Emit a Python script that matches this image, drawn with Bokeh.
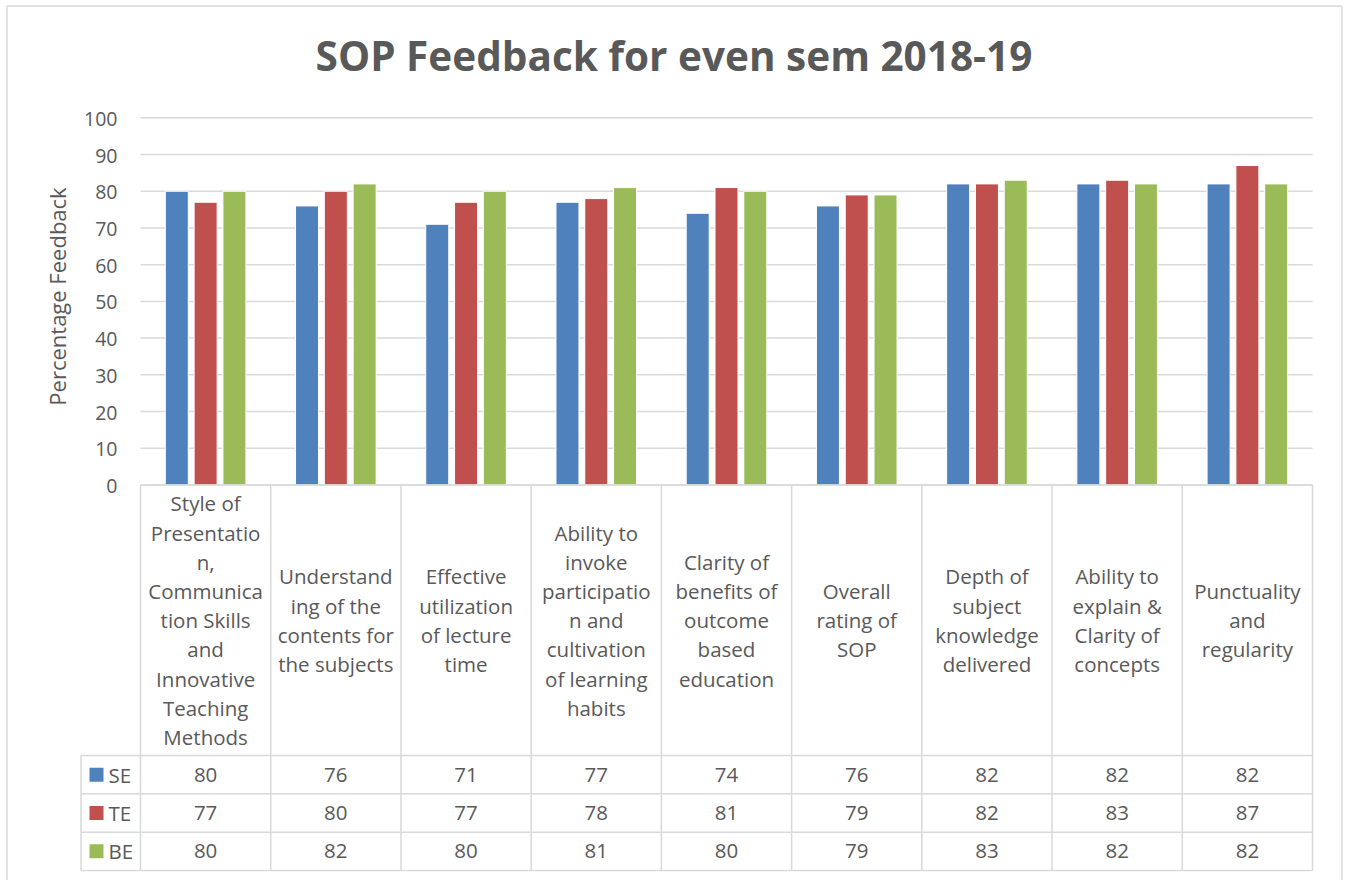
from bokeh.plotting import figure
from bokeh.models import Range1d
from bokeh.core.properties import value
from bokeh.embed import file_html
from bokeh.resources import INLINE

# ---------------- data ----------------
title_text = "SOP Feedback for even sem 2018-19"
y_axis_title = "Percentage Feedback"

categories = [
    "Style of Presentation, Communication Skills and Innovative Teaching Methods",
    "Understanding of the contents for the subjects",
    "Effective utilization of lecture time",
    "Ability to invoke participation and cultivation of learning habits",
    "Clarity of benefits of outcome based education",
    "Overall rating of SOP",
    "Depth of subject knowledge delivered",
    "Ability to explain & Clarity of concepts",
    "Punctuality and regularity",
]
# category labels as wrapped in the chart's data table
category_lines = [
    ["Style of", "Presentatio", "n,", "Communica", "tion Skills", "and", "Innovative", "Teaching", "Methods"],
    ["Understand", "ing of the", "contents for", "the subjects"],
    ["Effective", "utilization", "of lecture", "time"],
    ["Ability to", "invoke", "participatio", "n and", "cultivation", "of learning", "habits"],
    ["Clarity of", "benefits of", "outcome", "based", "education"],
    ["Overall", "rating of", "SOP"],
    ["Depth of", "subject", "knowledge", "delivered"],
    ["Ability to", "explain &", "Clarity of", "concepts"],
    ["Punctuality", "and", "regularity"],
]
series_names = ["SE", "TE", "BE"]
se_values = [80, 76, 71, 77, 74, 76, 82, 82, 82]
te_values = [77, 80, 77, 78, 81, 79, 82, 83, 87]
be_values = [80, 82, 80, 81, 80, 79, 83, 82, 82]
y_ticks = [0, 10, 20, 30, 40, 50, 60, 70, 80, 90, 100]

# ---------------- styling / layout ----------------
series_values = [se_values, te_values, be_values]
series_colors = ["#4F81BD", "#C0504D", "#9BBB59"]
TEXT = "#595959"
GRID = "#D9D9D9"
FONT = "Open Sans"

W, H = 1348, 880
PAGE_X0, PAGE_Y0 = 0, 0
PLOT_L, PLOT_R = 140.0, 1312.0
Y0_PX, Y100_PX = 484.5, 117.3
n = len(categories)
cat_w = (PLOT_R - PLOT_L) / n
ppu = (Y0_PX - Y100_PX) / 100.0


def X(px):
    return (px - PLOT_L) / cat_w


def Y(py):
    return (Y0_PX - py) / ppu


p = figure(
    width=W, height=H,
    x_range=Range1d(X(PAGE_X0), X(PAGE_X0 + W)),
    y_range=Range1d(Y(PAGE_Y0 + H), Y(PAGE_Y0)),
    x_axis_type=None, y_axis_type=None,
    toolbar_location=None, output_backend="svg",
    min_border=0, outline_line_color=None,
    background_fill_color="white", border_fill_color="white",
)

# outer chart border (top, left, right)
BL, BT, BR, BB = 6.5, 5.5, 1341.5, 880.0
p.segment(x0=[X(BL), X(BL), X(BR)], y0=[Y(BT), Y(BT), Y(BT)],
          x1=[X(BR), X(BL), X(BR)], y1=[Y(BT), Y(BB), Y(BB)],
          line_color=GRID, line_width=1.5)

# horizontal gridlines
p.segment(x0=[0] * len(y_ticks), y0=y_ticks, x1=[n] * len(y_ticks), y1=y_ticks,
          line_color=GRID, line_width=1.5)

# y tick labels (y is the visual centre of the digits)
p.text(x=[X(117)] * len(y_ticks), y=[t - 1.0 / ppu for t in y_ticks],
       text=[str(t) for t in y_ticks], text_font=value(FONT), text_font_size="19.5px",
       text_color=TEXT, text_align="right", text_baseline="alphabetic")

# y axis title
p.text(x=[X(56)], y=[Y(296)], text=[y_axis_title], angle=1.5707963,
       text_font=value(FONT), text_font_size="22px", text_color=TEXT,
       text_align="center", text_baseline="alphabetic")

# title
p.text(x=[X(673.5)], y=[Y(55)], text=[title_text], text_font=value(FONT),
       text_font_size="40.5px", text_font_style="bold", text_color=TEXT,
       text_align="center", text_baseline="alphabetic")

# bars
bar_w = 23.0 / cat_w
step = 28.8 / cat_w
for j, (vals, col) in enumerate(zip(series_values, series_colors)):
    xs = [i + 0.5 + (j - 1) * step for i in range(n)]
    p.vbar(x=xs, top=vals, bottom=0, width=bar_w, fill_color=col,
           line_color="white", line_width=1)

# ---------------- data table ----------------
ROW_TOPS = [755.0, 793.3, 831.7]
TABLE_BOTTOM = 870.0
TABLE_LEFT = 80.5
# axis line / header top
p.segment(x0=[0], y0=[0], x1=[n], y1=[0], line_color=GRID, line_width=1.5)
# vertical lines of category columns
p.segment(x0=list(range(n + 1)), y0=[0] * (n + 1), x1=list(range(n + 1)),
          y1=[Y(TABLE_BOTTOM)] * (n + 1), line_color=GRID, line_width=1.5)
# horizontal lines of the table rows
hl = ROW_TOPS + [TABLE_BOTTOM]
p.segment(x0=[X(TABLE_LEFT)] * len(hl), y0=[Y(v) for v in hl], x1=[n] * len(hl),
          y1=[Y(v) for v in hl], line_color=GRID, line_width=1.5)
# left border of series column
p.segment(x0=[X(TABLE_LEFT)], y0=[Y(ROW_TOPS[0])], x1=[X(TABLE_LEFT)], y1=[Y(TABLE_BOTTOM)],
          line_color=GRID, line_width=1.5)

# category labels in header
HEADER_C = (Y0_PX + ROW_TOPS[0]) / 2.0
LINE_H = 29.2
cx, cy, ct = [], [], []
for i, lines in enumerate(category_lines):
    m = len(lines)
    for k, line in enumerate(lines):
        cpx = HEADER_C + (k - (m - 1) / 2.0) * LINE_H
        cx.append(i + 0.5)
        cy.append(Y(cpx))
        ct.append(line)
p.text(x=cx, y=cy, text=ct, text_font=value(FONT), text_font_size="20.5px",
       text_color=TEXT, text_align="center", text_baseline="alphabetic")

# rows: swatch, series name, values
row_bounds = ROW_TOPS + [TABLE_BOTTOM]
vx, vy, vt = [], [], []
for r, (name, vals, col) in enumerate(zip(series_names, series_values, series_colors)):
    rc = (row_bounds[r] + row_bounds[r + 1]) / 2.0
    p.scatter(x=[X(96)], y=[Y(rc)], marker="square", size=14, fill_color=col, line_color=None)
    p.text(x=[X(108)], y=[Y(rc)], text=[name], text_font=value(FONT),
           text_font_size="20.5px", text_color=TEXT, text_align="left",
           text_baseline="alphabetic")
    for i, v in enumerate(vals):
        vx.append(i + 0.5)
        vy.append(Y(rc))
        vt.append(str(v))
p.text(x=vx, y=vy, text=vt, text_font=value(FONT), text_font_size="20.5px",
       text_color=TEXT, text_align="center", text_baseline="alphabetic")

open("out.html", "w").write(file_html(p, INLINE))
